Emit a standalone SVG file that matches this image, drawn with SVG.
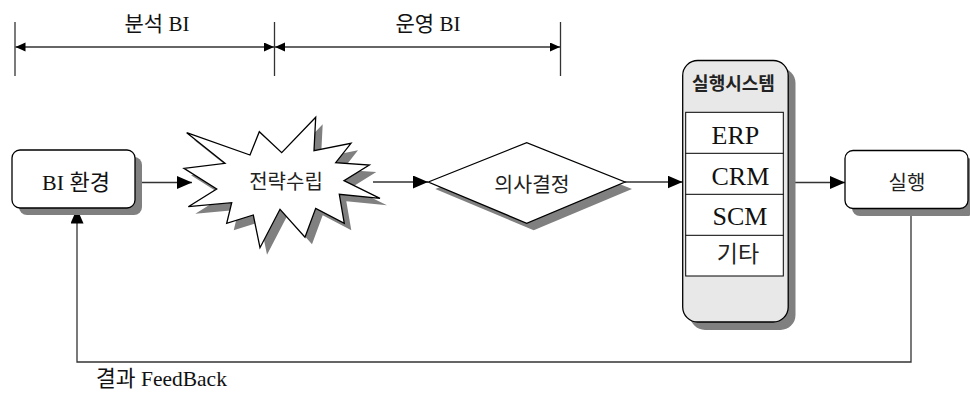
<svg xmlns="http://www.w3.org/2000/svg" width="970" height="394" viewBox="0 0 970 394">
  <style>
    .ln { stroke: #333; stroke-width: 1.3; fill: none; }
    .shape { fill: #fff; stroke: #000; stroke-width: 1.3; }
    .shadow { fill: #808080; stroke: none; }
    .serif { font-family: "Liberation Serif", "Noto Sans CJK KR", serif; fill: #111; }
    .sans { font-family: "Noto Sans CJK KR", "Noto Sans", sans-serif; fill: #222; }
  </style>
  <defs>
    <marker id="arr" markerUnits="userSpaceOnUse" markerWidth="16" markerHeight="14" refX="15" refY="6.5" orient="auto">
      <path d="M0,0 L15,6.5 L0,13 z" fill="#000"/>
    </marker>
    <marker id="dim" markerUnits="userSpaceOnUse" markerWidth="11" markerHeight="10" refX="10" refY="4.5" orient="auto-start-reverse">
      <path d="M0,0 L10,4.5 L0,9 z" fill="#000"/>
    </marker>
  </defs>

  <!-- dimension bar -->
  <g id="dimensions">
    <line class="ln" x1="15" y1="22" x2="15" y2="76"/>
    <line class="ln" x1="274.5" y1="22" x2="274.5" y2="76"/>
    <line class="ln" x1="560.5" y1="22" x2="560.5" y2="76"/>
    <line class="ln" x1="15.5" y1="47" x2="274" y2="47" marker-start="url(#dim)" marker-end="url(#dim)"/>
    <line class="ln" x1="275" y1="47" x2="560" y2="47" marker-start="url(#dim)" marker-end="url(#dim)"/>
    <text class="serif" x="157" y="31" font-size="21" text-anchor="middle">분석 BI</text>
    <text class="serif" x="428" y="31" font-size="21" text-anchor="middle">운영 BI</text>
  </g>

  <!-- connectors -->
  <g id="connectors">
    <line class="ln" x1="135" y1="182.5" x2="192" y2="182.5" marker-end="url(#arr)"/>
    <line class="ln" x1="373" y1="182" x2="428" y2="182" marker-end="url(#arr)"/>
    <line class="ln" x1="625" y1="182" x2="682.5" y2="182" marker-end="url(#arr)"/>
    <line class="ln" x1="788" y1="182.5" x2="845" y2="182.5" marker-end="url(#arr)"/>
    <polyline class="ln" points="911,208 911,362 77,362 77,208.5" marker-end="url(#arr)"/>
    <text class="serif" x="96" y="386" font-size="21.5">결과 FeedBack</text>
  </g>

  <g id="bi-env">
    <rect class="shadow" x="19" y="157" width="123" height="58" rx="8"/>
    <rect class="shape" x="12" y="150" width="123" height="58" rx="8"/>
    <text class="serif" x="76" y="190" font-size="22" text-anchor="middle">BI 환경</text>
  </g>

  <g id="strategy">
    <polygon class="shadow" transform="translate(7,7)" points="186.7,132.7 250,155 259.3,131.7 281.7,152.7 315.7,117.3 314,150.7 351,143.3 335.7,162.7 369.3,165 344,180.7 380,198.3 339.3,194.3 344.3,223.3 315.7,208.3 305,237.3 280,209.3 260,247.7 253.3,215 226.7,223.3 231.7,202.7 188.3,206.7 216.7,189 184,168.3 225,163.3"/>
    <polygon class="shape" points="186.7,132.7 250,155 259.3,131.7 281.7,152.7 315.7,117.3 314,150.7 351,143.3 335.7,162.7 369.3,165 344,180.7 380,198.3 339.3,194.3 344.3,223.3 315.7,208.3 305,237.3 280,209.3 260,247.7 253.3,215 226.7,223.3 231.7,202.7 188.3,206.7 216.7,189 184,168.3 225,163.3"/>
    <text class="sans" x="286" y="189" font-size="20" text-anchor="middle">전략수립</text>
  </g>

  <g id="decision">
    <polygon class="shadow" transform="translate(7,7)" points="428.3,182 526.7,142.7 625,182 526.7,223.3"/>
    <polygon class="shape" points="428.3,182 526.7,142.7 625,182 526.7,223.3"/>
    <text class="sans" x="532" y="192" font-size="20.5" text-anchor="middle">의사결정</text>
  </g>

  <g id="exec-system">
    <rect class="shadow" x="690" y="68" width="105.5" height="262" rx="15"/>
    <rect x="682.7" y="60.5" width="105.5" height="261.5" rx="15" fill="#e8e8e8" stroke="#000" stroke-width="1.3"/>
    <text class="sans" x="733.5" y="90" font-size="18" font-weight="bold" text-anchor="middle" fill="#111">실행시스템</text>
    <rect x="685.7" y="112.3" width="97.6" height="163.7" fill="#fff" stroke="#000" stroke-width="1"/>
    <line x1="685.7" y1="153.3" x2="783.3" y2="153.3" stroke="#000" stroke-width="1"/>
    <line x1="685.7" y1="194.3" x2="783.3" y2="194.3" stroke="#000" stroke-width="1"/>
    <line x1="685.7" y1="235.3" x2="783.3" y2="235.3" stroke="#000" stroke-width="1"/>
    <text class="serif" x="711.5" y="144" font-size="26">ERP</text>
    <text class="serif" x="711.5" y="185" font-size="26">CRM</text>
    <text class="serif" x="712.5" y="225" font-size="26">SCM</text>
    <text class="sans" x="738" y="262" font-size="23" text-anchor="middle">기타</text>
  </g>

  <g id="execute">
    <rect class="shadow" x="852" y="158" width="123" height="58" rx="8"/>
    <rect class="shape" x="845" y="150.5" width="123" height="58" rx="8"/>
    <text class="sans" x="907" y="189.5" font-size="20" text-anchor="middle">실행</text>
  </g>
</svg>
